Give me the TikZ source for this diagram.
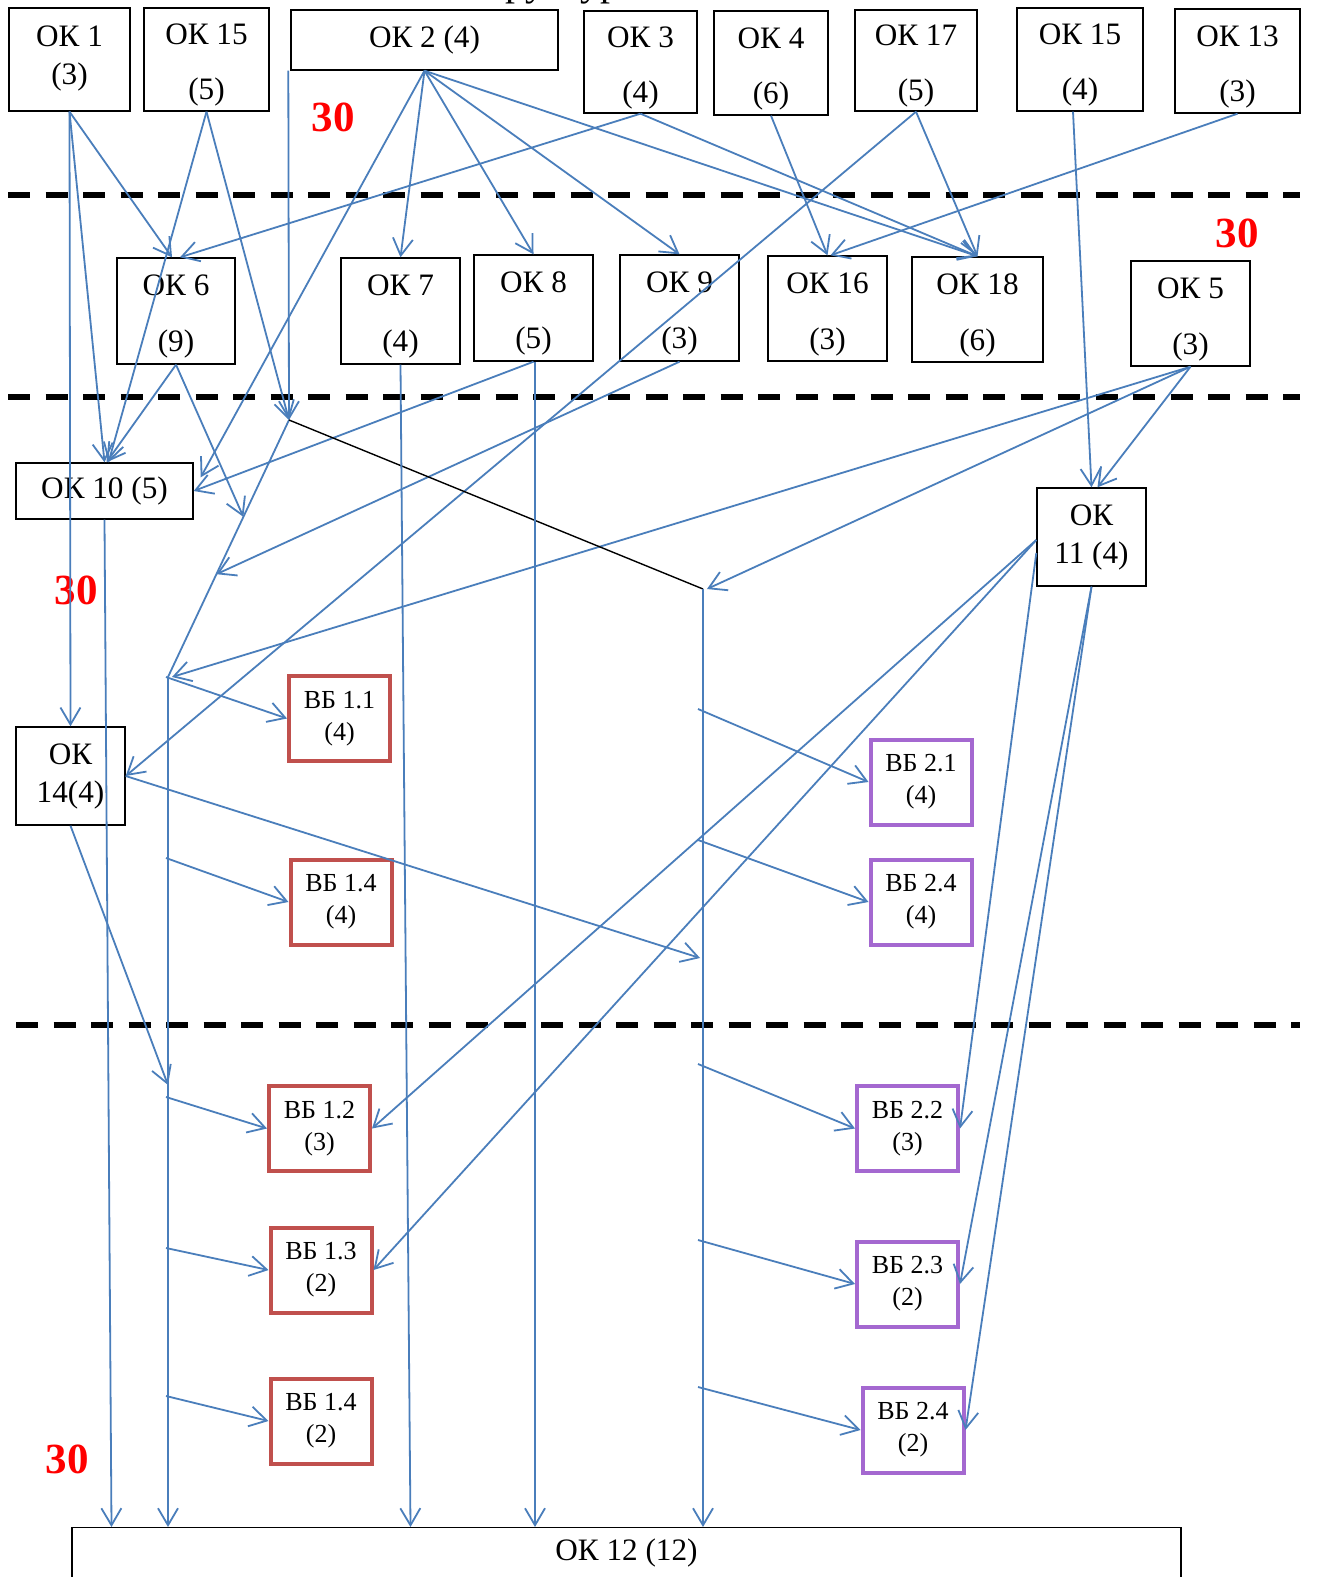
\documentclass[tikz,border=0pt]{standalone}
\usepackage{fontspec}
\setmainfont{Liberation Serif}
\usetikzlibrary{arrows.meta,calc}
\definecolor{lineblue}{RGB}{74,126,187}
\definecolor{vbred}{RGB}{192,80,77}
\definecolor{vbviolet}{RGB}{164,104,208}
\newcommand{\oktext}[4]{\raisebox{#4}[\height][\depth]{\begin{tabular}{@{}c@{}}#1\\[#3]#2\end{tabular}}}

\begin{document}
\begin{tikzpicture}[x=0.5pt,y=-0.5pt,
	boxsize/.style 2 args={minimum width=#1*0.5pt, minimum height=#2*0.5pt},
	ok/.style={draw, line width=0.7pt, align=center, inner sep=0pt, font=\fontsize{15.6}{19}\selectfont},
	vb/.style={draw, line width=2pt, align=center, inner sep=0pt, minimum width=50.5pt, minimum height=42.5pt, font=\fontsize{13}{16}\selectfont},
	link/.style={lineblue, line width=0.9pt, -{Straight Barb[length=8.5pt,width=10pt]}},
	bus/.style={lineblue, line width=0.9pt},
	cutline/.style={line width=3pt, dash pattern=on 11pt off 7.75pt},
	mark30/.style={red, font=\fontsize{21.5}{24}\selectfont\bfseries}]
	\useasboundingbox[fill=white] (0,0) rectangle (1316,1577);

	\node[font=\fontsize{20}{24}\selectfont, anchor=base] (title) at (550,-4.7) {Структура};

	\node[ok, boxsize={121}{103}] (ok1) at (69.5,59.5) {\oktext{ОК 1}{(3)}{0pt}{1pt}};
	\node[ok, boxsize={125}{103}] (ok15a) at (206.5,59.5) {\oktext{ОК 15}{(5)}{8.5pt}{-2.5pt}};
	\node[ok, boxsize={267}{60}] (ok2) at (424.5,40) {ОК 2 (4)};
	\node[ok, boxsize={113}{102}] (ok3) at (640.5,62) {\oktext{ОК 3}{(4)}{8.5pt}{-2.5pt}};
	\node[ok, boxsize={114}{104}] (ok4) at (771,63) {\oktext{ОК 4}{(6)}{8.5pt}{-2.5pt}};
	\node[ok, boxsize={122}{101}] (ok17) at (916,60.5) {\oktext{ОК 17}{(5)}{8.5pt}{-2.5pt}};
	\node[ok, boxsize={126}{103}] (ok15b) at (1080,59.5) {\oktext{ОК 15}{(4)}{8.5pt}{-2.5pt}};
	\node[ok, boxsize={125}{104}] (ok13) at (1237.5,61) {\oktext{ОК 13}{(3)}{8.5pt}{-2.5pt}};

	\node[ok, boxsize={118}{106}] (ok6) at (176,311) {\oktext{ОК 6}{(9)}{9pt}{-2.5pt}};
	\node[ok, boxsize={119}{106}] (ok7) at (400.5,311) {\oktext{ОК 7}{(4)}{9pt}{-2.5pt}};
	\node[ok, boxsize={119}{106}] (ok8) at (533.5,308) {\oktext{ОК 8}{(5)}{9pt}{-2.5pt}};
	\node[ok, boxsize={119}{106}] (ok9) at (679.5,308) {\oktext{ОК 9}{(3)}{9pt}{-2.5pt}};
	\node[ok, boxsize={119}{105}] (ok16) at (827.5,308.5) {\oktext{ОК 16}{(3)}{9pt}{-2.5pt}};
	\node[ok, boxsize={131}{105}] (ok18) at (977.5,309.5) {\oktext{ОК 18}{(6)}{9pt}{-2.5pt}};
	\node[ok, boxsize={119}{105}] (ok5) at (1190.5,313.5) {\oktext{ОК 5}{(3)}{9pt}{-2.5pt}};

	\node[ok, boxsize={177}{56}] (ok10) at (104.5,491) {ОК 10 (5)};
	\node[ok, boxsize={109}{98}] (ok14) at (70.5,776) {ОК\\14(4)};
	\node[ok, boxsize={109}{98}] (ok11) at (1091.5,537) {ОК\\11 (4)};
	\node[ok, boxsize={1109}{70}, anchor=north] (ok12) at (626.5,1527) {\raisebox{5pt}[\height][\depth]{ОК 12 (12)}};

	\node[vb, draw=vbred] (vb11) at (339.5,718.5) {ВБ 1.1\\(4)};
	\node[vb, draw=vbred] (vb14a) at (341,902) {ВБ 1.4\\(4)};
	\node[vb, draw=vbred] (vb12) at (319.5,1128.5) {ВБ 1.2\\(3)};
	\node[vb, draw=vbred] (vb13) at (321,1270) {ВБ 1.3\\(2)};
	\node[vb, draw=vbred] (vb14b) at (321,1421) {ВБ 1.4\\(2)};
	\node[vb, draw=vbviolet] (vb21) at (921,782) {ВБ 2.1\\(4)};
	\node[vb, draw=vbviolet] (vb24a) at (921,902) {ВБ 2.4\\(4)};
	\node[vb, draw=vbviolet] (vb22) at (907.5,1128.5) {ВБ 2.2\\(3)};
	\node[vb, draw=vbviolet] (vb23) at (907.5,1284) {ВБ 2.3\\(2)};
	\node[vb, draw=vbviolet] (vb24b) at (913,1430) {ВБ 2.4\\(2)};

	\node[mark30] (n30a) at (333,117) {30};
	\node[mark30] (n30b) at (1237,233) {30};
	\node[mark30] (n30c) at (76,590) {30};
	\node[mark30] (n30d) at (67,1459) {30};

	\foreach \y/\x in {195/8, 397/8, 1025/16}
		\draw[cutline] (\x,\y) -- (1300,\y);

	\coordinate (hubA) at (289,420);
	\coordinate (busR) at (703,589);
	\coordinate (busL) at (168,677);

	\draw[link] (ok1.south) -- (ok14.north);
	\draw[link] (ok1.south) -- ([xshift=-2pt]ok6.north);
	\draw[link] (ok1.south) -- (ok10.north);
	\draw[link] (ok15a.south) -- ([xshift=2pt]ok10.north);
	\draw[link] (ok15a.south) -- (hubA);
	\draw[link] ([xshift=-1pt]ok2.south west) -- (hubA);
	\foreach \t in {ok7,ok8,ok9,ok18}
		\draw[link] (ok2.south) -- (\t.north);
	\draw[link] (ok2.south) -- ($(ok10.north east)+(7,15)$);
	\draw[link] (ok3.south) -- ([xshift=2pt]ok6.north);
	\draw[link] (ok3.south) -- (ok18.north);
	\draw[link] (ok4.south) -- (ok16.north);
	\draw[link] (ok13.south) -- ([xshift=1.5pt]ok16.north);
	\draw[link] (ok17.south) -- (ok18.north);
	\draw[link] (ok17.south) -- (ok14.east);
	\draw[link] ([xshift=-3.5pt]ok15b.south) -- (ok11.north);
	\draw[link] (ok5.south) -- ([xshift=3pt]ok11.north);
	\draw[link] (ok5.south) -- ([xshift=2pt]busR);
	\draw[link] (ok5.south) -- ([xshift=2pt]busL);
	\draw[link] (ok6.south) -- ([xshift=1pt]ok10.north);
	\draw[link] (ok6.south) -- ($(hubA)!0.377!(busL)$);
	\draw[link] (ok8.south) -- (ok10.east);
	\draw[link] (ok9.south) -- ($(hubA)!0.6!(busL)$);

	\draw[bus] (hubA) -- (busL);
	\draw[black, line width=0.7pt] (hubA) -- (busR);

	\draw[link] (busL) -- (busL |- ok12.north);
	\draw[link] (busR) -- (busR |- ok12.north);
	\draw[link] (ok10.south) -- ($(ok10.south |- ok12.north)+(7,0)$);
	\draw[link] (ok7.south) -- ($(ok7.south |- ok12.north)+(10,0)$);
	\draw[link] ($(ok8.south)+(1.5,0)$) -- ($(ok8.south |- ok12.north)+(1.5,0)$);

	\foreach \y/\b in {677/vb11, 858/vb14a, 1097/vb12, 1248/vb13, 1396/vb14b}{
		\coordinate (l\b) at (166,\y);
		\draw[link] (l\b) -- (\b.west);
	}
	\foreach \y/\b in {709/vb21, 840/vb24a, 1064/vb22, 1240/vb23, 1387/vb24b}{
		\coordinate (r\b) at (698,\y);
		\draw[link] (r\b) -- (\b.west);
	}

	\coordinate (l14) at (168,1085);
	\coordinate (r14) at (700,958);
	\draw[link] (ok14.south) -- (l14);
	\draw[link] (ok14.east) -- (r14);

	\draw[link] ($(ok11.west)+(0,3)$) -- (vb12.east);
	\draw[link] ($(ok11.west)+(0,3)$) -- (vb13.east);
	\draw[link] ($(ok11.west)+(0,16)$) -- (vb22.east);
	\draw[link] (ok11.south) -- (vb23.east);
	\draw[link] (ok11.south) -- (vb24b.east);
\end{tikzpicture}
\end{document}
